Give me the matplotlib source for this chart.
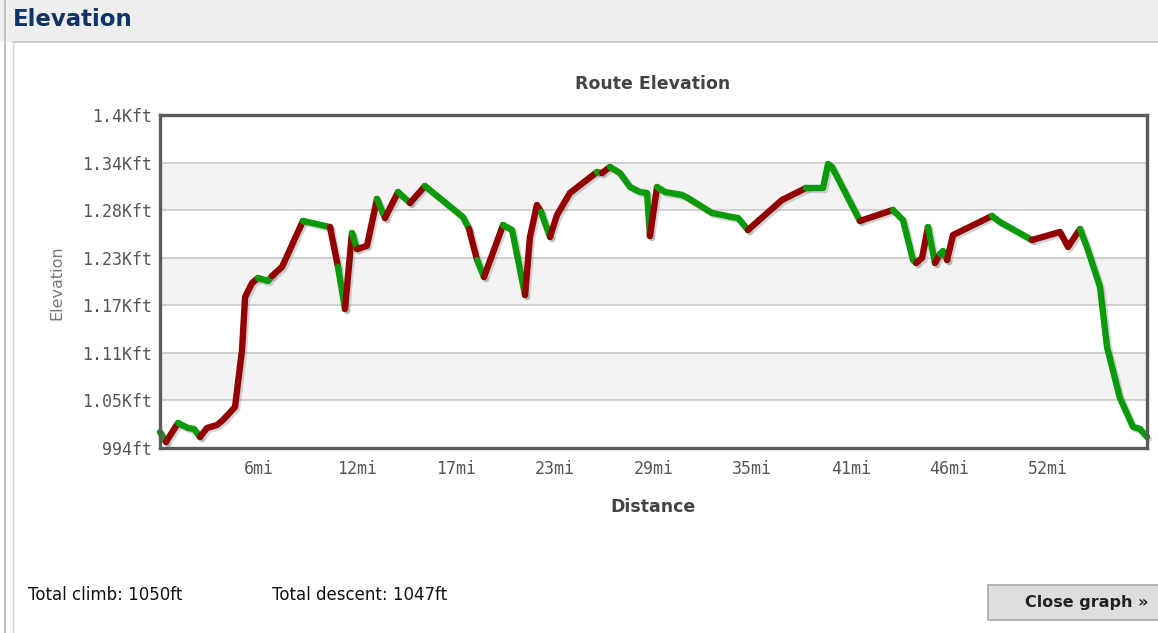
import matplotlib
matplotlib.use("Agg")
import matplotlib.pyplot as plt
import matplotlib.patheffects as pe
from matplotlib.patches import Rectangle
from matplotlib.lines import Line2D

# ---------------- data ----------------
distance_mi = [0, 0.35, 1.06, 1.65, 2.00, 2.35, 2.76, 3.35, 3.70, 4.41,
               4.58, 4.82, 5.00, 5.41, 5.76, 6.35, 6.58, 7.17, 8.40, 9.99,
               10.46, 10.87, 11.28, 11.58, 12.16, 12.75, 13.22, 13.99, 14.69, 15.57,
               17.80, 18.16, 18.63, 19.04, 20.16, 20.69, 21.45, 21.74, 22.15, 22.39,
               22.92, 23.33, 24.09, 25.68, 25.97, 26.44, 27.03, 27.62, 28.21, 28.62,
               28.79, 29.21, 29.68, 30.68, 31.03, 32.44, 33.61, 33.97, 34.55, 36.55,
               37.96, 38.96, 39.26, 39.49, 41.13, 43.07, 43.66, 44.25, 44.43, 44.78,
               45.13, 45.54, 45.84, 46.01, 46.25, 46.60, 48.89, 49.36, 51.24, 52.89,
               53.36, 54.06, 54.47, 55.24, 55.65, 56.41, 57.18, 57.59, 58.00]
elevation_ft = [1013.5, 1001.3, 1024.5, 1018.4, 1017.2, 1007.4, 1018.4, 1022.0, 1028.1, 1044.0,
                1073.2, 1113.5, 1178.1, 1195.2, 1201.3, 1197.6, 1203.7, 1214.7, 1270.8, 1263.4,
                1214.7, 1163.5, 1256.1, 1236.6, 1240.3, 1297.6, 1274.4, 1306.1, 1292.7, 1313.4,
                1275.6, 1261.0, 1223.2, 1202.5, 1265.9, 1259.8, 1180.5, 1251.3, 1290.3, 1281.7,
                1251.3, 1278.1, 1304.9, 1330.5, 1329.3, 1336.6, 1329.3, 1312.2, 1306.1, 1304.9,
                1252.5, 1312.2, 1306.1, 1302.5, 1298.8, 1280.5, 1275.6, 1274.4, 1259.8, 1296.4,
                1311.0, 1311.0, 1340.3, 1336.6, 1270.8, 1284.2, 1272.0, 1223.2, 1219.6, 1225.7,
                1263.4, 1219.6, 1230.5, 1234.2, 1223.2, 1253.7, 1276.9, 1269.5, 1247.6, 1257.4,
                1239.1, 1261.0, 1239.1, 1190.3, 1117.1, 1055.0, 1019.6, 1017.2, 1007.4]
# segment state (one per segment): c = climb (red), d = descent (green)
segment_state = "".join([
    "dcdddccccc", "ccccddccdc", "dcdccdcdcd", "dcdcddcccd",
    "cccdcddddd", "cdddddddcc", "ddddcdddcc", "dcddccddcc",
    "cddddddd",
])

ytick_values = [994, 1052, 1110, 1168, 1226, 1284, 1342, 1400]
ytick_labels = ["994ft", "1.05Kft", "1.11Kft", "1.17Kft", "1.23Kft", "1.28Kft", "1.34Kft", "1.4Kft"]
xtick_values = [5.8, 11.6, 17.4, 23.2, 29.0, 34.8, 40.6, 46.4, 52.2]
xtick_labels = ["6mi", "12mi", "17mi", "23mi", "29mi", "35mi", "41mi", "46mi", "52mi"]
band_ranges = [(1052, 1110), (1168, 1226), (1284, 1342)]
total_climb = "1050ft"
total_descent = "1047ft"

state_colors = {"c": "#930000", "d": "#0a9a0a"}

W, H = 1158, 633
fig = plt.figure(figsize=(W / 100, H / 100), dpi=100)
fig.patch.set_facecolor("white")

def fx(px):
    return px / W

def fy(py):
    return 1 - py / H

# header strip
fig.add_artist(Rectangle((0, fy(42)), 1, 42 / H, transform=fig.transFigure,
                         facecolor="#eeeeee", edgecolor="none"))
fig.add_artist(Line2D([fx(13), 1], [fy(42), fy(42)], transform=fig.transFigure,
                      color="#c4c4c4", lw=1.2))
fig.add_artist(Line2D([fx(5), fx(5)], [0, 1], transform=fig.transFigure,
                      color="#c0c0c0", lw=1.5))
fig.add_artist(Line2D([fx(13), fx(13)], [0, fy(42)], transform=fig.transFigure,
                      color="#d0d0d0", lw=1.0))
fig.text(fx(13), fy(20), "Elevation", fontsize=16.5, fontweight="bold",
         color="#0f3567", ha="left", va="center")

# axes
ax = fig.add_axes([fx(160), fy(448), fx(1147) - fx(160), (448 - 115) / H])
ax.set_xlim(0, 58)
ax.set_ylim(994, 1400)
ax.set_facecolor("white")
for lo, hi in band_ranges:
    ax.axhspan(lo, hi, color="#f3f3f3", zorder=0, lw=0)
for v in ytick_values[1:-1]:
    ax.axhline(v, color="#c8c8c8", lw=1.2, zorder=1)

# line, grouped into runs of same colour
shadow = [pe.SimpleLineShadow(offset=(1.5, -1.5), shadow_color="#888888", alpha=0.35), pe.Normal()]
i = 0
n = len(segment_state)
while i < n:
    j = i
    while j + 1 < n and segment_state[j + 1] == segment_state[i]:
        j += 1
    ax.plot(distance_mi[i:j + 2], elevation_ft[i:j + 2], color=state_colors[segment_state[i]],
            lw=4.6, solid_capstyle="round", solid_joinstyle="round", zorder=3,
            path_effects=shadow, clip_on=False)
    i = j + 1

for s in ax.spines.values():
    s.set_color("#5a5a5a")
    s.set_linewidth(2.4)
    s.set_zorder(4)

ax.set_yticks(ytick_values)
ax.set_yticklabels(ytick_labels)
ax.set_xticks(xtick_values)
ax.set_xticklabels(xtick_labels)
ax.tick_params(length=0, labelsize=12, labelcolor="#555555")
for lab in ax.get_xticklabels() + ax.get_yticklabels():
    lab.set_family("DejaVu Sans Mono")
ax.tick_params(axis="y", pad=6)
ax.tick_params(axis="x", pad=9)

fig.text(fx(57), fy(283), "Elevation", rotation=90, fontsize=11.5, color="#777777",
         ha="center", va="center")
fig.text(fx(653), fy(507), "Distance", fontsize=12.5, fontweight="bold", color="#444444",
         ha="center", va="center")
fig.text(fx(653), fy(84), "Route Elevation", fontsize=12.5, fontweight="bold", color="#444444",
         ha="center", va="center")

fig.text(fx(28), fy(595), "Total climb: " + total_climb, fontsize=12, color="#111111",
         ha="left", va="center")
fig.text(fx(272), fy(595), "Total descent: " + total_descent, fontsize=12, color="#111111",
         ha="left", va="center")

# close button
fig.add_artist(Rectangle((fx(988), fy(620)), fx(200), 35 / H, transform=fig.transFigure,
                         facecolor="#dedede", edgecolor="#a8a8a8", lw=1.2))
fig.text(fx(1025), fy(603), "Close graph \u00bb", fontsize=11.5, fontweight="bold",
         color="#222222", ha="left", va="center")

fig.savefig("out.png", dpi=100)
